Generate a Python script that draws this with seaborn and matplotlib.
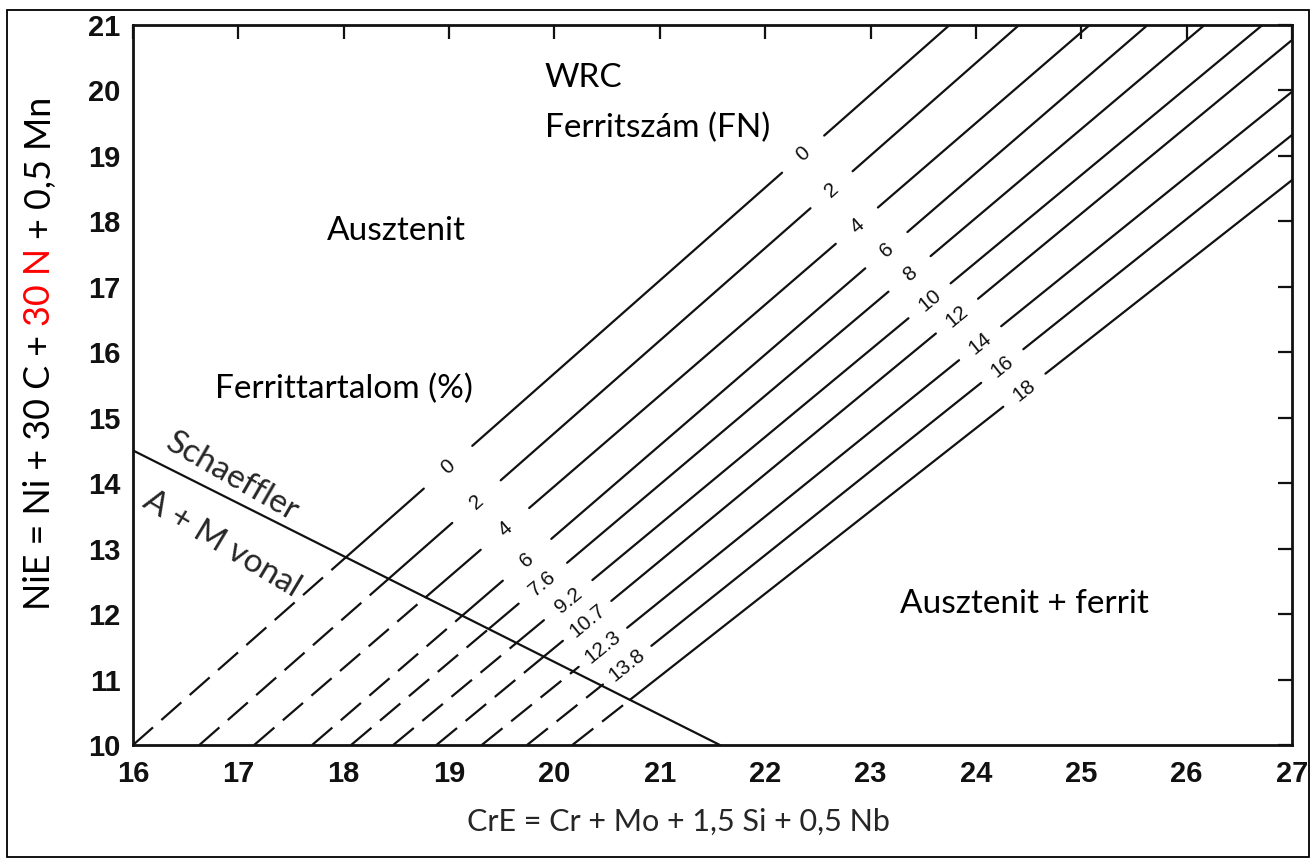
import matplotlib
matplotlib.use("Agg")
import matplotlib.pyplot as plt
from matplotlib.patches import Rectangle
import numpy as np
import pandas as pd
import seaborn as sns

# ---------------- data ----------------
fn_labels = ["0", "2", "4", "6", "8", "10", "12", "14", "16", "18"]
pct_labels = ["0", "2", "4", "6", "7.6", "9.2", "10.7", "12.3", "13.8"]
# each iso-ferrite line: start point (at NiE = 10) and end point (top or right border)
cre_start = [16.00, 16.63, 17.15, 17.70, 18.07, 18.47, 18.88, 19.31, 19.74, 20.17]
nie_start = [10.0, 10.0, 10.0, 10.0, 10.0, 10.0, 10.0, 10.0, 10.0, 10.0]
cre_end = [23.75, 24.41, 25.08, 25.63, 26.17, 26.72, 27.0, 27.0, 27.0, 27.0]
nie_end = [21.0, 21.0, 21.0, 21.0, 21.0, 21.0, 20.77, 19.98, 19.32, 18.63]
# CrE position of the label on each line
fn_label_cre = [22.36, 22.63, 22.87, 23.15, 23.37, 23.56, 23.82, 24.04, 24.25, 24.46]
pct_label_cre = [18.99, 19.26, 19.53, 19.74, 19.89, 20.13, 20.31, 20.46, 20.69]
# Schaeffler A+M line
schaeffler_cre = [16.0, 21.57]
schaeffler_nie = [14.5, 10.0]
x_ticks = list(range(16, 28))
y_ticks = list(range(10, 22))

# ---------------- style ----------------
sns.set_theme(style="white")
plt.rcParams["font.family"] = ["Liberation Sans", "DejaVu Sans"]
ANN_FONT = ["Lato", "DejaVu Sans"]

W, H = 1316, 866
fig = plt.figure(figsize=(W / 100, H / 100), dpi=100)
fig.patch.set_facecolor("white")
ax = fig.add_axes([133 / W, 1 - 745 / H, (1292 - 133) / W, (745 - 25) / H])
ax.set_facecolor("white")
ax.set_xlim(16, 27)
ax.set_ylim(10, 21)


def slope(i):
    return (nie_end[i] - nie_start[i]) / (cre_end[i] - cre_start[i])


def line_y(i, x):
    return nie_start[i] + slope(i) * (np.asarray(x) - cre_start[i])


sk = (schaeffler_nie[1] - schaeffler_nie[0]) / (schaeffler_cre[1] - schaeffler_cre[0])

rows_dash, rows_solid = [], []
seg = 0
g_lo, g_hi = 0.23, 0.20
for i in range(len(cre_start)):
    k = slope(i)
    xi = (schaeffler_nie[0] - sk * schaeffler_cre[0] - nie_start[i] + k * cre_start[i]) / (k - sk)
    seg += 1
    for x in (cre_start[i], xi):
        rows_dash.append((seg, x, float(line_y(i, x))))
    bps = [xi]
    if i < len(pct_label_cre):
        bps += [pct_label_cre[i] - g_lo, pct_label_cre[i] + g_lo]
    bps += [fn_label_cre[i] - g_hi, fn_label_cre[i] + g_hi, cre_end[i]]
    for a, b in zip(bps[0::2], bps[1::2]):
        seg += 1
        for x in (a, b):
            rows_solid.append((seg, x, float(line_y(i, x))))

df_dash = pd.DataFrame(rows_dash, columns=["seg", "CrE", "NiE"])
df_solid = pd.DataFrame(rows_solid, columns=["seg", "CrE", "NiE"])
df_sch = pd.DataFrame({"CrE": schaeffler_cre, "NiE": schaeffler_nie})

LC = "#111111"
sns.lineplot(data=df_dash, x="CrE", y="NiE", units="seg", estimator=None, sort=False,
             color=LC, lw=1.6, linestyle=(0, (12, 5)), ax=ax, legend=False)
sns.lineplot(data=df_solid, x="CrE", y="NiE", units="seg", estimator=None, sort=False,
             color=LC, lw=1.6, ax=ax, legend=False)
sns.lineplot(data=df_sch, x="CrE", y="NiE", estimator=None, sort=False,
             color=LC, lw=1.6, ax=ax, legend=False)


def screen_angle(i, x):
    deg = np.degrees(np.arctan(slope(i)))
    return float(ax.transData.transform_angles(np.array([deg]),
                                               np.array([[x, float(line_y(i, x))]]))[0])


# line labels (written along the lines, in the gaps)
LAB_FS = 15
for i, lab in enumerate(fn_labels):
    x = fn_label_cre[i]
    ax.text(x, float(line_y(i, x)), lab, rotation=screen_angle(i, x), ha="center",
            va="center", rotation_mode="anchor", fontsize=LAB_FS, color=LC)
for i, lab in enumerate(pct_labels):
    x = pct_label_cre[i]
    ax.text(x, float(line_y(i, x)), lab, rotation=screen_angle(i, x), ha="center",
            va="center", rotation_mode="anchor", fontsize=LAB_FS, color=LC)

# axes
ax.set_xticks(x_ticks)
ax.set_yticks(y_ticks)
ax.set_xlabel("")
ax.set_ylabel("")
for s in ax.spines.values():
    s.set_visible(True)
    s.set_color(LC)
    s.set_linewidth(2.0)
ax.tick_params(direction="in", length=10, width=1.6, top=True, right=True,
               labelsize=21, colors=LC)
ax.tick_params(axis="x", pad=11)
ax.tick_params(axis="y", pad=9)
for t in ax.get_xticklabels() + ax.get_yticklabels():
    t.set_fontweight("bold")

# region annotations
ann = dict(family=ANN_FONT, fontsize=24, color="black", va="center", ha="left")
ax.text(19.91, 20.19, "WRC", **ann)
ax.text(19.91, 19.42, "Ferritszám (FN)", **ann)
ax.text(17.84, 17.85, "Ausztenit", **ann)
ax.text(16.78, 15.44, "Ferrittartalom (%)", **ann)
ax.text(23.28, 12.15, "Ausztenit + ferrit", **ann)
ax.text(16.94, 14.09, "Schaeffler", family=ANN_FONT, fontsize=24, rotation=-30,
        ha="center", va="center", rotation_mode="anchor")
ax.text(16.84, 13.07, "A + M vonal", family=ANN_FONT, fontsize=24, rotation=-31,
        ha="center", va="center", rotation_mode="anchor")

# x label
fig.text(678 / W, 1 - 822 / H, "CrE = Cr + Mo + 1,5 Si + 0,5 Nb", family=ANN_FONT,
         fontsize=22, ha="center", va="center")

# y label with a red part, stacked from the bottom
pieces = [("NiE = Ni + 30 C + ", "black"), ("30 N", "red"), (" + 0,5 Mn", "black")]
y_bottom_px, y_top_px, x_px = 610, 95, 40
fig.canvas.draw()
r = fig.canvas.get_renderer()
fs = 20.0
texts = [fig.text(x_px / W, 0.5, t, color=c, rotation=90, family=ANN_FONT,
                  fontsize=fs, ha="center", va="bottom") for t, c in pieces]
total = sum(t.get_window_extent(r).height for t in texts)
fs = fs * (y_bottom_px - y_top_px) / total
for t in texts:
    t.set_fontsize(fs)
fig.canvas.draw()
ypos = H - y_bottom_px
for t in texts:
    t.set_position((x_px / W, ypos / H))
    ypos += t.get_window_extent(r).height

# figure border
fig.add_artist(Rectangle((7 / W, 1 - 857 / H), (1309 - 7) / W, (857 - 10) / H,
                         transform=fig.transFigure, fill=False, lw=1.3, ec="black"))

fig.savefig("out.png", dpi=100)
